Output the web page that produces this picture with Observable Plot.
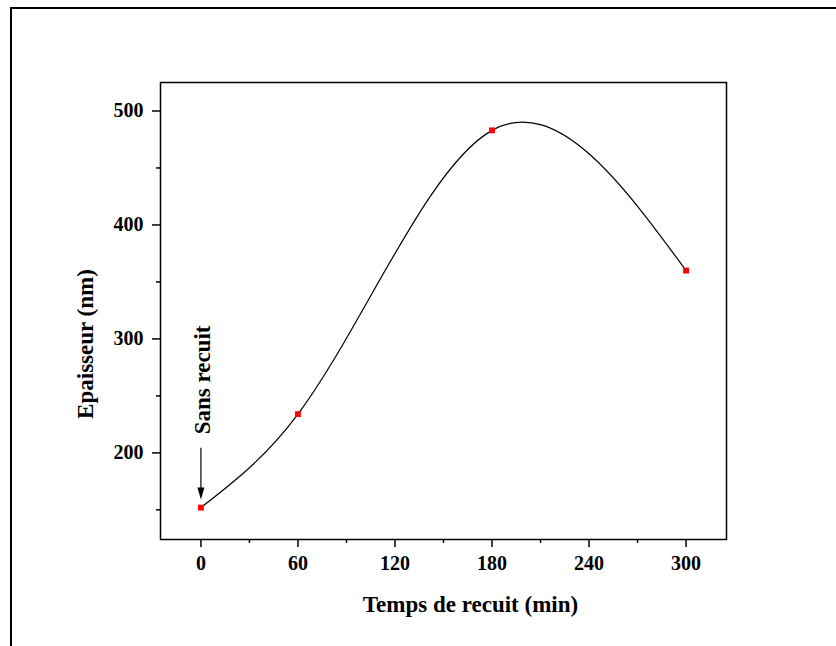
<!DOCTYPE html>
<html><head><meta charset="utf-8">
<script src="https://cdn.jsdelivr.net/npm/d3@7"></script>
<script src="https://cdn.jsdelivr.net/npm/@observablehq/plot@0.6"></script>
<style>
html,body{margin:0;padding:0;background:#fff;}
#wrap{position:relative;width:836px;height:646px;overflow:hidden;}
#border{position:absolute;left:10px;top:7px;width:900px;height:700px;border-left:2px solid #000;border-top:2px solid #000;pointer-events:none;}
</style></head><body>
<div id="wrap"><div id="chart"></div><div id="border"></div></div>
<script>
const times = [0, 60, 180, 300];
const thickness = [152, 234, 483, 360];
const xTicks = [0, 60, 120, 180, 240, 300];
const xMinorTicks = [30, 90, 150, 210, 270];
const yTicks = [200, 300, 400, 500];
const yMinorTicks = [150, 250, 350, 450];
const xLabel = "Temps de recuit (min)";
const yLabel = "Epaisseur (nm)";
const noteText = "Sans recuit";
const noteX = [0];
const noteY = [264];
const arrowTop = [204];
const arrowTip = [159];

const data = times.map((t, i) => ({t, e: thickness[i]}));

// Natural cubic spline y(x) (non-parametric), drawn as Bezier segments
function splineX(context) {
  let xs = [], ys = [];
  return {
    areaStart() {}, areaEnd() {},
    lineStart() { xs = []; ys = []; },
    point(x, y) { xs.push(+x); ys.push(+y); },
    lineEnd() {
      const n = xs.length;
      if (n === 0) return;
      context.moveTo(xs[0], ys[0]);
      if (n === 1) return;
      if (n === 2) { context.lineTo(xs[1], ys[1]); return; }
      const h = [], d = [];
      for (let i = 0; i < n - 1; i++) { h.push(xs[i + 1] - xs[i]); d.push((ys[i + 1] - ys[i]) / h[i]); }
      // tridiagonal for interior second derivatives
      const m = n - 2, a = [], b = [], c = [], r = [];
      for (let k = 0; k < m; k++) {
        const i = k + 1;
        a.push(h[i - 1]); b.push(2 * (h[i - 1] + h[i])); c.push(h[i]); r.push(6 * (d[i] - d[i - 1]));
      }
      for (let k = 1; k < m; k++) { const w = a[k] / b[k - 1]; b[k] -= w * c[k - 1]; r[k] -= w * r[k - 1]; }
      const Mi = new Array(m);
      Mi[m - 1] = r[m - 1] / b[m - 1];
      for (let k = m - 2; k >= 0; k--) Mi[k] = (r[k] - c[k] * Mi[k + 1]) / b[k];
      const M = [0, ...Mi, 0];
      for (let i = 0; i < n - 1; i++) {
        const hi = h[i];
        const s0 = d[i] - hi * (2 * M[i] + M[i + 1]) / 6;
        const s1 = d[i] + hi * (M[i] + 2 * M[i + 1]) / 6;
        context.bezierCurveTo(xs[i] + hi / 3, ys[i] + s0 * hi / 3, xs[i + 1] - hi / 3, ys[i + 1] - s1 * hi / 3, xs[i + 1], ys[i + 1]);
      }
    }
  };
}

const arrowHead = {draw(ctx) { ctx.moveTo(0, 0); ctx.lineTo(-3.5, -12); ctx.lineTo(3.5, -12); ctx.closePath(); }};
const font = {fontFamily: "'Liberation Serif', 'Times New Roman', serif", fontWeight: "bold"};

const chart = Plot.plot({
  width: 836, height: 646,
  marginLeft: 160, marginRight: 110, marginTop: 82, marginBottom: 107,
  style: {fontFamily: font.fontFamily, fontWeight: "bold", fontSize: "20px", color: "#000", background: "transparent"},
  x: {domain: [-25, 325]},
  y: {domain: [124, 525]},
  marks: [
    Plot.axisX({ticks: xTicks, tickSize: 8, tickPadding: 8, strokeWidth: 1.5, label: null, fontSize: 20, fontWeight: "bold"}),
    Plot.axisX({ticks: xMinorTicks, tickSize: 4, tickFormat: () => "", strokeWidth: 1.5, label: null}),
    Plot.axisY({ticks: yTicks, tickSize: 8, tickPadding: 9, strokeWidth: 1.5, label: null, fontSize: 20, fontWeight: "bold"}),
    Plot.axisY({ticks: yMinorTicks, tickSize: 4, tickFormat: () => "", strokeWidth: 1.5, label: null}),
    Plot.frame({stroke: "#000", strokeWidth: 1.5}),
    Plot.text([xLabel], {frameAnchor: "bottom", textAnchor: "middle", lineAnchor: "middle", dx: 27, dy: 65, fontSize: 23, ...font}),
    Plot.text([yLabel], {frameAnchor: "left", textAnchor: "middle", lineAnchor: "middle", dx: -75, dy: 33, rotate: -90, fontSize: 23, ...font}),
    Plot.line(data, {x: "t", y: "e", curve: splineX, stroke: "#000", strokeWidth: 1.2}),
    Plot.ruleX(noteX, {y1: arrowTop, y2: arrowTip.map(v => v + 6), stroke: "#000", strokeWidth: 1.2}),
    Plot.dot(noteX.map((x, i) => ({x, y: arrowTip[i]})), {x: "x", y: "y", symbol: arrowHead, fill: "#000", stroke: "none"}),
    Plot.text(noteX.map((x, i) => ({x, y: noteY[i], s: noteText})), {x: "x", y: "y", text: "s", rotate: -90, dx: 2, fontSize: 23, ...font}),
    Plot.dot(data, {x: "t", y: "e", symbol: "square", r: 3.3, fill: "#ff0000", stroke: "none"})
  ]
});
document.getElementById("chart").appendChild(chart);
</script>
</body></html>
